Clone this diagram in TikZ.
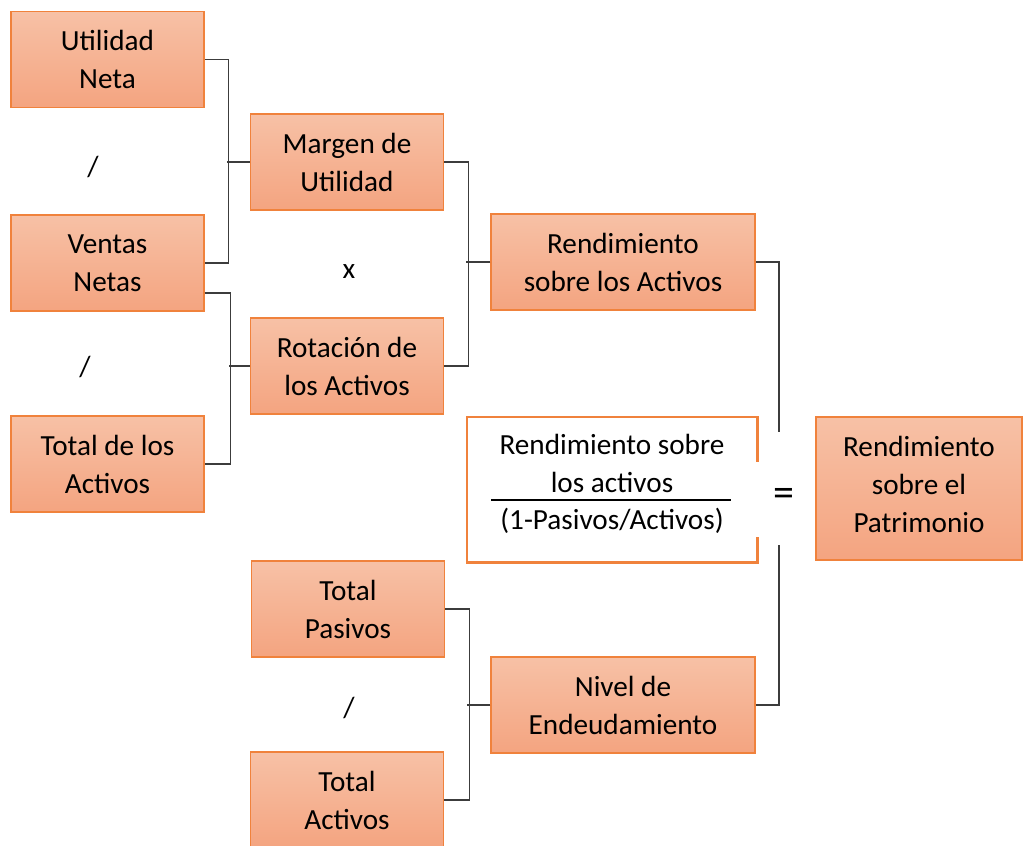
\documentclass[tikz,border=0pt]{standalone}
\usepackage{fontspec}
\setmainfont{Carlito}
\usetikzlibrary{calc}
\definecolor{ftop}{RGB}{247,193,166}
\definecolor{fbot}{RGB}{244,164,128}
\definecolor{bord}{RGB}{240,130,60}
\definecolor{lin}{RGB}{60,60,60}
\tikzset{
  base/.style={inner sep=0pt, align=center, font=\fontsize{14.6}{19}\selectfont},
  obox/.style={base, draw=bord, line width=0.7pt, top color=ftop, bottom color=fbot,
    minimum width=96.5pt, minimum height=48pt},
  wbox/.style={obox, minimum width=132pt},
  conn/.style={draw=lin, line width=0.7pt},
  op/.style={base},
  fbord/.style={draw=bord, line width=1.1pt}
}
\begin{document}
\begin{tikzpicture}[x=0.5pt,y=-0.5pt]
\useasboundingbox (0,0) rectangle (1024,846);
% boxes
\node[obox] (un) at (107.5,59.5) {Utilidad\\Neta};
\node[obox] (vn) at (107.5,263) {Ventas\\Netas};
\node[obox] (ta) at (107.5,464) {Total de los\\Activos};
\node[obox] (mu) at (347,162) {Margen de\\Utilidad};
\node[obox] (ro) at (347,366) {Rotación de\\los Activos};
\node[wbox] (ra) at (623,262) {Rendimiento\\sobre los Activos};
\node[obox] (tp) at (348,609) {Total\\Pasivos};
\node[obox] (tact) at (347,800) {Total\\Activos};
\node[wbox] (ni) at (623,705) {Nivel de\\Endeudamiento};
\node[obox, minimum width=103pt, minimum height=71.5pt] (rp) at (919,488.5) {};
\node[base] (rpt) at ($(rp.center)+(0,-4.5)$) {Rendimiento\\sobre el\\Patrimonio};
% fraction box
\node[base, minimum width=145pt, minimum height=72.5pt] (fb) at (612,489.5) {};
\draw[fbord] ($(fb.north east)+(0,45)$) -- (fb.north east) -- (fb.north west) -- (fb.south west) -- (fb.south east) -- ($(fb.south east)+(0,-25)$);
\node[base] (fn) at (612,463.5) {Rendimiento sobre\\los activos};
\coordinate (fl1) at (491,500);
\coordinate (fl2) at (731,500);
\draw[draw=black, line width=0.6pt] (fl1) -- (fl2);
\node[base] (fd) at (612,521) {(1-Pasivos/Activos)};
% operators
\node[op] (o1) at (93,167) {/};
\node[op] (o2) at (349,272) {x};
\node[op] (o3) at (85,367) {/};
\node[op] (o4) at (349,708) {/};
\node[base, font=\fontsize{21}{24}\selectfont] (o5) at (784,497) {=};
% connectors
\draw[conn] (un.east) -- ++(24,0) |- (vn.east);
\draw[conn] (mu.west) -- ++(-23,0);
\draw[conn] ($(vn.east)+(0,30)$) -- ++(26,0) |- (ta.east);
\draw[conn] (ro.west) -- ++(-21,0);
\draw[conn] (mu.east) -- ++(24,0) |- (ro.east);
\draw[conn] (ra.west) -- ++(-24,0);
\coordinate (g1) at (779,432);
\coordinate (g2) at (779,545);
\draw[conn] (ra.east) -| (g1);
\draw[conn] (g2) |- (ni.east);
\draw[conn] (tp.east) -- ++(24,0) |- (tact.east);
\draw[conn] (ni.west) -- ++(-23,0);
\end{tikzpicture}
\end{document}
